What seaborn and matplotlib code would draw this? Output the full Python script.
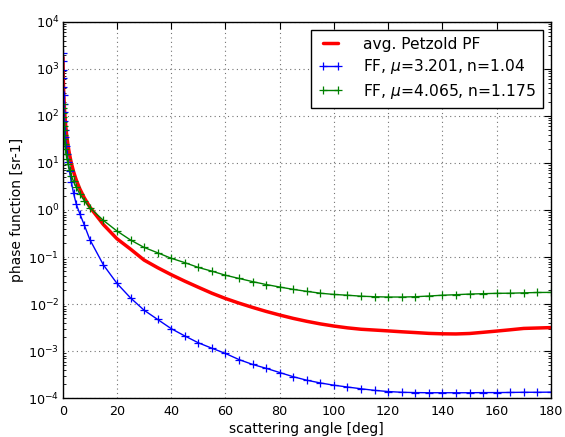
import numpy as np
import pandas as pd
import matplotlib
matplotlib.use("Agg")
import matplotlib.pyplot as plt
import seaborn as sns

# ---- data ----
small_angles = [0.1, 0.126, 0.158, 0.2, 0.251, 0.316, 0.398, 0.501, 0.631, 0.794,
                1.0, 1.259, 1.585, 1.995, 2.512, 3.162, 3.981, 5.012, 6.31, 7.943]
big_angles = [10, 15, 20, 25, 30, 35, 40, 45, 50, 55, 60, 65, 70, 75, 80, 85, 90,
              95, 100, 105, 110, 115, 120, 125, 130, 135, 140, 145, 150, 155, 160,
              165, 170, 175, 180]
angles = small_angles + big_angles

petzold = [1767, 1296, 950.2, 699.1, 514.0, 376.4, 276.3, 218.8, 144.4, 102.2,
           71.61, 49.58, 33.95, 22.81, 15.16, 10.02, 6.58, 4.295, 2.807, 1.819,
           1.153, 0.4893, 0.2444, 0.1472, 0.08609, 0.05931, 0.0421, 0.03067,
           0.02275, 0.01699, 0.01313, 0.01046, 0.008488, 0.006976, 0.005842,
           0.004953, 0.004292, 0.003782, 0.003404, 0.003116, 0.002912, 0.002797,
           0.002686, 0.002571, 0.002476, 0.002377, 0.002329, 0.002313, 0.002365,
           0.002506, 0.002662, 0.002835, 0.003031, 0.003092, 0.003154]

ff1 = [2190, 1450, 955, 630, 417, 275, 182, 120, 79.4, 51.3,
       35.5, 23.4, 15.5, 10.7, 6.6, 3.98, 2.29, 1.32, 0.83, 0.48,
       0.235, 0.068, 0.0275, 0.0135, 0.0074, 0.0047, 0.0030, 0.0021,
       0.0015, 0.00115, 0.00089, 0.00066, 0.00052, 0.00043, 0.00035,
       0.000285, 0.00024, 0.00021, 0.000188, 0.000172, 0.000158, 0.000146,
       0.000138, 0.000133, 0.000131, 0.00013, 0.00013, 0.00013, 0.00013,
       0.000131, 0.000131, 0.000132, 0.000133, 0.000133, 0.000134]

ff2 = [182, 148, 117, 95.5, 75.9, 61.7, 49.0, 39.8, 31.6, 25.1,
       20.0, 15.5, 12.0, 9.33, 7.08, 5.37, 4.07, 3.02, 2.19, 1.58,
       1.12, 0.60, 0.357, 0.23, 0.16, 0.123, 0.094, 0.076, 0.060, 0.050,
       0.041, 0.035, 0.030, 0.026, 0.023, 0.0205, 0.0186, 0.017, 0.016,
       0.0154, 0.0147, 0.0143, 0.0141, 0.0141, 0.0143, 0.0148, 0.0154,
       0.0158, 0.0163, 0.0166, 0.0169, 0.017, 0.0173, 0.0176, 0.0177]

labels = ["avg. Petzold PF", r"FF, $\mu$=3.201, n=1.04", r"FF, $\mu$=4.065, n=1.175"]

# ---- style ----
sns.set_theme(style="white")
plt.rcParams.update({
    "font.family": ["DejaVu Sans"],
    "axes.edgecolor": "black",
    "axes.linewidth": 1.0,
    "xtick.direction": "in",
    "ytick.direction": "in",
    "xtick.top": True,
    "ytick.right": True,
    "xtick.color": "black",
    "ytick.color": "black",
    "text.color": "black",
    "axes.labelcolor": "black",
    "mathtext.fontset": "dejavusans",
})

fig = plt.figure(figsize=(5.65, 4.37), dpi=100)
ax = fig.add_axes([0.111, 0.089, 0.864, 0.861])

df = pd.DataFrame({"angle": angles, "petzold": petzold, "ff1": ff1, "ff2": ff2})

sns.lineplot(data=df, x="angle", y="petzold", ax=ax, color="#ff0000", lw=2.5,
             sort=False, legend=False)
sns.lineplot(data=df, x="angle", y="ff1", ax=ax, color="#0000ff", lw=1.0,
             marker="+", markersize=6, markeredgewidth=0.9, markeredgecolor="#0000ff",
             sort=False, legend=False)
sns.lineplot(data=df, x="angle", y="ff2", ax=ax, color="#008000", lw=1.0,
             marker="+", markersize=6, markeredgewidth=0.9, markeredgecolor="#008000",
             sort=False, legend=False)

ax.set_yscale("log")
ax.set_xlim(0, 180)
ax.set_ylim(1e-4, 1e4)
ax.set_xticks(np.arange(0, 181, 20))
ax.set_yticks([10.0 ** k for k in range(-4, 5)])
ax.yaxis.set_minor_locator(matplotlib.ticker.LogLocator(base=10, subs=np.arange(2, 10), numticks=20))
ax.yaxis.set_minor_formatter(matplotlib.ticker.NullFormatter())

ax.tick_params(which="major", length=5, width=0.8, labelsize=9.2)
ax.tick_params(axis="x", which="major", pad=5)
ax.tick_params(axis="y", which="major", pad=2.5)
ax.tick_params(which="minor", length=2.5, width=0.6)
ax.tick_params(axis="y", which="minor", left=True, right=True)

ax.grid(True, which="major", color="0.45", linestyle=(0, (1, 3)), linewidth=0.8)
for s in ax.spines.values():
    s.set_visible(True)
    s.set_color("black")

ax.set_xlabel("scattering angle [deg]", fontsize=10, labelpad=3)
ax.set_ylabel("phase function [sr-1]", fontsize=10, labelpad=3)

handles = list(ax.lines[:3])
leg = ax.legend(handles, labels, loc="upper right", fontsize=11.2, numpoints=2,
                fancybox=False, framealpha=1.0, edgecolor="black",
                handlelength=1.6, handletextpad=1.3, borderpad=0.45,
                labelspacing=0.35, borderaxespad=0.5)
leg.get_frame().set_linewidth(1.0)

fig.savefig("out.png", dpi=100, facecolor="white")
